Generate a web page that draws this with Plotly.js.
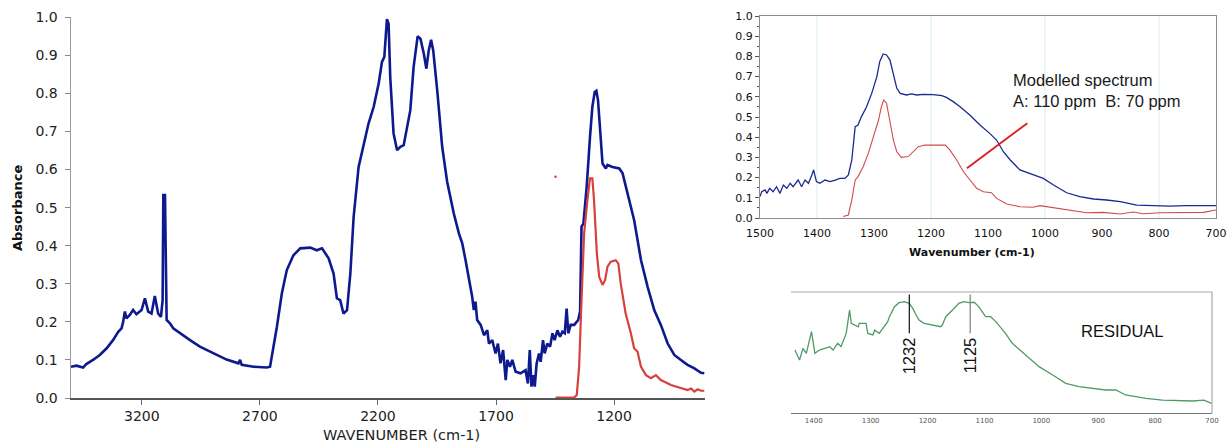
<!DOCTYPE html>
<html>
<head>
<meta charset="utf-8">
<script src="https://cdn.plot.ly/plotly-3.0.1.min.js"></script>
<style>
  html, body { margin: 0; padding: 0; background: #fff; }
  #chart { width: 1232px; height: 443px; }
</style>
</head>
<body>
<div id="chart"></div>
<script>
// ---- Full measured spectrum (left panel) ----
const measWn = [3500, 3477, 3449, 3435, 3407, 3378, 3350, 3322, 3300, 3286, 3279, 3272, 3265, 3251, 3237, 3223, 3201,
  3187, 3173, 3159, 3145, 3131, 3119, 3112, 3109, 3102, 3095, 3081, 3067, 3039, 2996, 2954, 2897, 2841, 2791,
  2784, 2777, 2727, 2671, 2657, 2628, 2607, 2586, 2558, 2529, 2487, 2459, 2437, 2409, 2388, 2374, 2360, 2346,
  2331, 2317, 2303, 2282, 2261, 2240, 2218, 2197, 2183, 2173, 2162, 2155, 2148, 2134, 2119, 2105, 2091, 2077,
  2063, 2049, 2032, 2020, 2006, 1995, 1985, 1975, 1966, 1949, 1928, 1907, 1879, 1857, 1843, 1829, 1815, 1801,
  1794, 1787, 1780, 1765, 1751, 1737, 1730, 1716, 1702, 1692, 1681, 1670, 1659, 1652, 1641, 1631, 1617, 1596,
  1575, 1565, 1557, 1550, 1543, 1536, 1528, 1518, 1511, 1501, 1494, 1483, 1471, 1461, 1452, 1440, 1429, 1419,
  1409, 1401, 1394, 1384, 1369, 1352, 1344, 1338, 1330, 1316, 1302, 1292, 1282, 1275, 1268, 1259, 1249, 1235,
  1228, 1207, 1178, 1164, 1143, 1115, 1086, 1058, 1030, 1002, 973, 945, 917, 889, 860, 832, 818];
const measAbs = [0.082, 0.085, 0.080, 0.089, 0.100, 0.113, 0.130, 0.152, 0.174, 0.183, 0.200, 0.227, 0.209, 0.218,
  0.231, 0.220, 0.231, 0.262, 0.227, 0.222, 0.268, 0.222, 0.213, 0.257, 0.533, 0.533, 0.205, 0.196, 0.183,
  0.170, 0.152, 0.135, 0.117, 0.101, 0.091, 0.100, 0.087, 0.082, 0.080, 0.082, 0.187, 0.275, 0.336, 0.375,
  0.393, 0.395, 0.388, 0.393, 0.367, 0.327, 0.262, 0.257, 0.222, 0.231, 0.327, 0.476, 0.607, 0.660, 0.721,
  0.765, 0.826, 0.883, 0.896, 0.995, 0.983, 0.843, 0.695, 0.651, 0.660, 0.664, 0.712, 0.756, 0.870, 0.950,
  0.944, 0.905, 0.865, 0.913, 0.941, 0.913, 0.808, 0.660, 0.568, 0.485, 0.432, 0.406, 0.362, 0.318, 0.266,
  0.231, 0.253, 0.205, 0.192, 0.165, 0.178, 0.143, 0.152, 0.117, 0.143, 0.091, 0.126, 0.047, 0.100, 0.082,
  0.100, 0.069, 0.065, 0.073, 0.038, 0.126, 0.030, 0.060, 0.030, 0.091, 0.117, 0.095, 0.152, 0.117, 0.143,
  0.135, 0.170, 0.152, 0.178, 0.161, 0.174, 0.170, 0.235, 0.170, 0.192, 0.192, 0.205, 0.227, 0.450, 0.458,
  0.555, 0.686, 0.765, 0.804, 0.807, 0.782, 0.695, 0.616, 0.603, 0.612, 0.607, 0.603, 0.590, 0.537, 0.467,
  0.362, 0.292, 0.231, 0.192, 0.143, 0.113, 0.100, 0.087, 0.078, 0.066, 0.065];

// ---- Modelled spectrum (left panel) ----
const modelWn = [1448, 1369, 1358, 1348, 1338, 1327, 1313, 1302, 1292, 1285, 1273, 1263, 1249, 1238, 1228, 1214,
  1193, 1182, 1172, 1151, 1129, 1115, 1101, 1086, 1065, 1044, 1023, 1002, 959, 917, 889, 874, 860, 846, 832, 818];
const modelAbs = [0.001, 0.001, 0.008, 0.082, 0.257, 0.432, 0.520, 0.577, 0.577, 0.520, 0.380, 0.318, 0.297, 0.310,
  0.345, 0.358, 0.362, 0.353, 0.301, 0.222, 0.170, 0.130, 0.122, 0.082, 0.060, 0.052, 0.060, 0.047, 0.034,
  0.025, 0.021, 0.025, 0.017, 0.023, 0.019, 0.019];
const strayWn = [1448];
const strayAbs = [0.581];

// ---- Zoomed region 1500-700 cm-1 (upper right panel) ----
const zoomMeasWn = [1500, 1497, 1491, 1488, 1483, 1477, 1471, 1465, 1459, 1453, 1447, 1442, 1433, 1427, 1421, 1415,
  1409, 1406, 1401, 1395, 1386, 1377, 1368, 1360, 1351, 1345, 1339, 1333, 1328, 1322, 1313, 1304, 1295, 1290,
  1284, 1278, 1272, 1266, 1260, 1254, 1243, 1234, 1225, 1214, 1196, 1181, 1173, 1161, 1149, 1132, 1114, 1097,
  1085, 1073, 1061, 1044, 1021, 1003, 985, 962, 939, 915, 892, 868, 839, 810, 781, 752, 722, 700];
const zoomMeasAbs = [0.106, 0.130, 0.139, 0.122, 0.147, 0.130, 0.155, 0.122, 0.163, 0.147, 0.172, 0.155, 0.188,
  0.155, 0.188, 0.172, 0.213, 0.238, 0.180, 0.172, 0.188, 0.180, 0.188, 0.196, 0.196, 0.213, 0.287, 0.452,
  0.460, 0.502, 0.551, 0.617, 0.700, 0.774, 0.812, 0.807, 0.782, 0.716, 0.642, 0.617, 0.609, 0.614, 0.609,
  0.612, 0.611, 0.606, 0.597, 0.576, 0.551, 0.510, 0.460, 0.419, 0.386, 0.328, 0.287, 0.238, 0.213, 0.196,
  0.163, 0.125, 0.106, 0.094, 0.089, 0.081, 0.064, 0.061, 0.059, 0.061, 0.063, 0.061];
const zoomModelWn = [1354, 1345, 1339, 1333, 1328, 1319, 1310, 1301, 1292, 1287, 1283, 1278, 1272, 1266, 1260, 1252,
  1240, 1231, 1222, 1211, 1196, 1175, 1167, 1155, 1143, 1132, 1120, 1108, 1094, 1085, 1067, 1044, 1021, 1009,
  991, 956, 927, 898, 868, 845, 828, 798, 752, 722, 700];
const zoomModelAbs = [0.007, 0.015, 0.089, 0.188, 0.205, 0.254, 0.320, 0.403, 0.485, 0.551, 0.584, 0.568, 0.485,
  0.386, 0.328, 0.300, 0.304, 0.328, 0.353, 0.361, 0.361, 0.361, 0.337, 0.287, 0.229, 0.188, 0.147, 0.130,
  0.125, 0.097, 0.069, 0.056, 0.053, 0.061, 0.053, 0.036, 0.026, 0.028, 0.020, 0.030, 0.021, 0.026, 0.026,
  0.028, 0.040];
const zoomGridWn = [1400, 1200, 1000, 800];
const pointerWn = [1137, 1031];
const pointerAbs = [0.246, 0.469];

// ---- Residual (lower right panel, arbitrary units) ----
const residWn = [1433, 1425, 1419, 1413, 1404, 1398, 1390, 1381, 1372, 1366, 1358, 1352, 1343, 1337, 1334, 1322,
  1320, 1308, 1305, 1296, 1293, 1285, 1273, 1270, 1267, 1258, 1250, 1241, 1232, 1226, 1220, 1215, 1206, 1191,
  1177, 1174, 1168, 1156, 1145, 1136, 1127, 1118, 1110, 1098, 1089, 1080, 1063, 1051, 1027, 1004, 980, 957,
  934, 910, 887, 869, 852, 834, 816, 787, 758, 734, 714, 701];
const residVal = [0.520, 0.438, 0.534, 0.493, 0.672, 0.493, 0.520, 0.534, 0.548, 0.520, 0.576, 0.548, 0.658,
  0.851, 0.741, 0.713, 0.741, 0.741, 0.658, 0.645, 0.686, 0.658, 0.741, 0.755, 0.796, 0.879, 0.912, 0.920,
  0.906, 0.865, 0.810, 0.769, 0.741, 0.727, 0.713, 0.727, 0.796, 0.851, 0.906, 0.920, 0.912, 0.915, 0.879,
  0.796, 0.796, 0.755, 0.658, 0.576, 0.479, 0.383, 0.314, 0.245, 0.218, 0.204, 0.190, 0.190, 0.149, 0.135,
  0.121, 0.107, 0.102, 0.099, 0.107, 0.080];
const peakWn = [1232, 1125];
const peakLabels = ['1232', '1125'];
const peakColors = ['#222222', '#888888'];

// ---- Tick labels ----
const mainXTicks = [3200, 2700, 2200, 1700, 1200];
const zoomXTicks = [1500, 1400, 1300, 1200, 1100, 1000, 900, 800, 700];
const residXTicks = [1400, 1300, 1200, 1100, 1000, 900, 800, 700];

const NAVY = '#0d1a8f';
const RED = '#d8403c';
const GREEN = '#4f9a68';
const VERDANA = 'DejaVu Sans, Verdana, sans-serif';
const ARIAL = 'Liberation Sans, Arial, sans-serif';
const TICKFONT = {family: VERDANA, size: 14, color: '#222'};

const traces = [
  {x: measWn, y: measAbs, xaxis: 'x', yaxis: 'y', mode: 'lines',
   line: {color: NAVY, width: 2.6}, hoverinfo: 'skip'},
  {x: modelWn, y: modelAbs, xaxis: 'x', yaxis: 'y', mode: 'lines',
   line: {color: RED, width: 2.2}, hoverinfo: 'skip'},
  {x: strayWn, y: strayAbs, xaxis: 'x', yaxis: 'y', mode: 'markers',
   marker: {color: RED, size: 2.5}, hoverinfo: 'skip'},

  {x: zoomMeasWn, y: zoomMeasAbs, xaxis: 'x2', yaxis: 'y2', mode: 'lines',
   line: {color: '#1a2a8e', width: 1.3}, hoverinfo: 'skip'},
  {x: zoomModelWn, y: zoomModelAbs, xaxis: 'x2', yaxis: 'y2', mode: 'lines',
   line: {color: '#d24a48', width: 1.1}, hoverinfo: 'skip'},
  {x: pointerWn, y: pointerAbs, xaxis: 'x2', yaxis: 'y2', mode: 'lines',
   line: {color: '#e0191b', width: 1.8}, hoverinfo: 'skip'},

  {x: residWn, y: residVal, xaxis: 'x3', yaxis: 'y3', mode: 'lines',
   line: {color: GREEN, width: 1.3}, hoverinfo: 'skip'}
];

const shapes = [];
// light vertical grid in the upper right panel
zoomGridWn.forEach(w => shapes.push({
  type: 'line', xref: 'x2', yref: 'y2 domain', x0: w, x1: w, y0: 0, y1: 1,
  line: {color: '#d6eef2', width: 1}, layer: 'below'
}));
// residual panel frame (top and right edges)
shapes.push({type: 'line', xref: 'x3 domain', yref: 'y3 domain', x0: 0, x1: 1, y0: 1, y1: 1,
  line: {color: '#a8a8a8', width: 1.2}});
shapes.push({type: 'line', xref: 'x3 domain', yref: 'y3 domain', x0: 1, x1: 1, y0: 0, y1: 1,
  line: {color: '#a8a8a8', width: 1.2}});
// peak marker lines in the residual panel
peakWn.forEach((w, i) => shapes.push({
  type: 'line', xref: 'x3', yref: 'y3', x0: w, x1: w, y0: 0.66, y1: 0.98,
  line: {color: peakColors[i], width: 1.3}
}));

function px(xPix) { return xPix / 1232; }
function py(yPix) { return 1 - yPix / 443; }

const annotations = [
  {text: 'Absorbance', xref: 'paper', yref: 'paper', x: px(17), y: py(208), textangle: -90,
   xanchor: 'center', yanchor: 'middle', showarrow: false,
   font: {family: VERDANA, size: 13, color: '#111', weight: 'bold'}},
  {text: 'WAVENUMBER (cm-1)', xref: 'paper', yref: 'paper', x: px(401), y: py(435),
   xanchor: 'center', yanchor: 'middle', showarrow: false,
   font: {family: VERDANA, size: 14.5, color: '#222'}},
  {text: 'Wavenumber (cm-1)', xref: 'paper', yref: 'paper', x: px(972), y: py(252),
   xanchor: 'center', yanchor: 'middle', showarrow: false,
   font: {family: VERDANA, size: 11, color: '#111', weight: 'bold'}},
  {text: 'Modelled spectrum<br>A: 110 ppm  B: 70 ppm', xref: 'paper', yref: 'paper',
   x: px(1011), y: py(69), xanchor: 'left', yanchor: 'top', align: 'left', showarrow: false,
   font: {family: ARIAL, size: 16.5, color: '#1a1a1a'}},
  {text: 'RESIDUAL', xref: 'paper', yref: 'paper', x: px(1122), y: py(331),
   xanchor: 'center', yanchor: 'middle', showarrow: false,
   font: {family: ARIAL, size: 16.5, color: '#111'}}
];
peakWn.forEach((w, i) => annotations.push({
  text: peakLabels[i], xref: 'x3', yref: 'paper', x: w, y: py(356), textangle: -90,
  xanchor: 'center', yanchor: 'middle', showarrow: false,
  font: {family: ARIAL, size: 16.5, color: '#111'}
}));

const layout = {
  width: 1232, height: 443,
  margin: {l: 0, r: 0, t: 0, b: 0},
  paper_bgcolor: '#fff', plot_bgcolor: 'rgba(0,0,0,0)',
  showlegend: false,
  xaxis: {
    domain: [px(71), px(705)], anchor: 'y', range: [3500, 815],
    tickvals: mainXTicks, ticks: 'outside', ticklen: 5, tickcolor: '#666',
    showline: true, linecolor: '#555', linewidth: 1.5, showgrid: false, zeroline: false,
    tickfont: TICKFONT
  },
  yaxis: {
    domain: [py(398), py(17.3)], anchor: 'x', range: [0, 1.0],
    dtick: 0.1, tickformat: '.1f', ticks: 'outside', ticklen: 5, tickcolor: '#888',
    ticklabelstandoff: 4,
    showline: true, linecolor: '#999', linewidth: 1.5, showgrid: false, zeroline: false,
    tickfont: TICKFONT
  },
  xaxis2: {
    domain: [px(760), px(1216)], anchor: 'y2', range: [1500, 700],
    tickvals: zoomXTicks, ticks: '', ticklabelstandoff: 5,
    showline: true, mirror: true, linecolor: '#8c8c8c', linewidth: 1,
    showgrid: false, zeroline: false,
    tickfont: {family: VERDANA, size: 11, color: '#111'}
  },
  yaxis2: {
    domain: [py(218), py(16)], anchor: 'x2', range: [0, 1.0],
    dtick: 0.1, tickformat: '.1f', ticks: 'outside', ticklen: 4, tickcolor: '#555',
    minor: {ticks: 'outside', ticklen: 2, dtick: 0.05, tickcolor: '#555'},
    showline: true, mirror: true, linecolor: '#8c8c8c', linewidth: 1,
    showgrid: false, zeroline: false,
    tickfont: {family: VERDANA, size: 11, color: '#111'}
  },
  xaxis3: {
    domain: [px(791), px(1212)], anchor: 'y3', range: [1440, 700],
    tickvals: residXTicks, ticks: '', showline: true, linecolor: '#777', linewidth: 1.2,
    showgrid: false, zeroline: false,
    tickfont: {family: VERDANA, size: 7, color: '#555'}
  },
  yaxis3: {
    domain: [py(413), py(292)], anchor: 'x3', range: [0, 1],
    showticklabels: false, ticks: '', showline: false, showgrid: false, zeroline: false
  },
  shapes: shapes,
  annotations: annotations
};

Plotly.newPlot('chart', traces, layout, {staticPlot: true, displayModeBar: false});
</script>
</body>
</html>
